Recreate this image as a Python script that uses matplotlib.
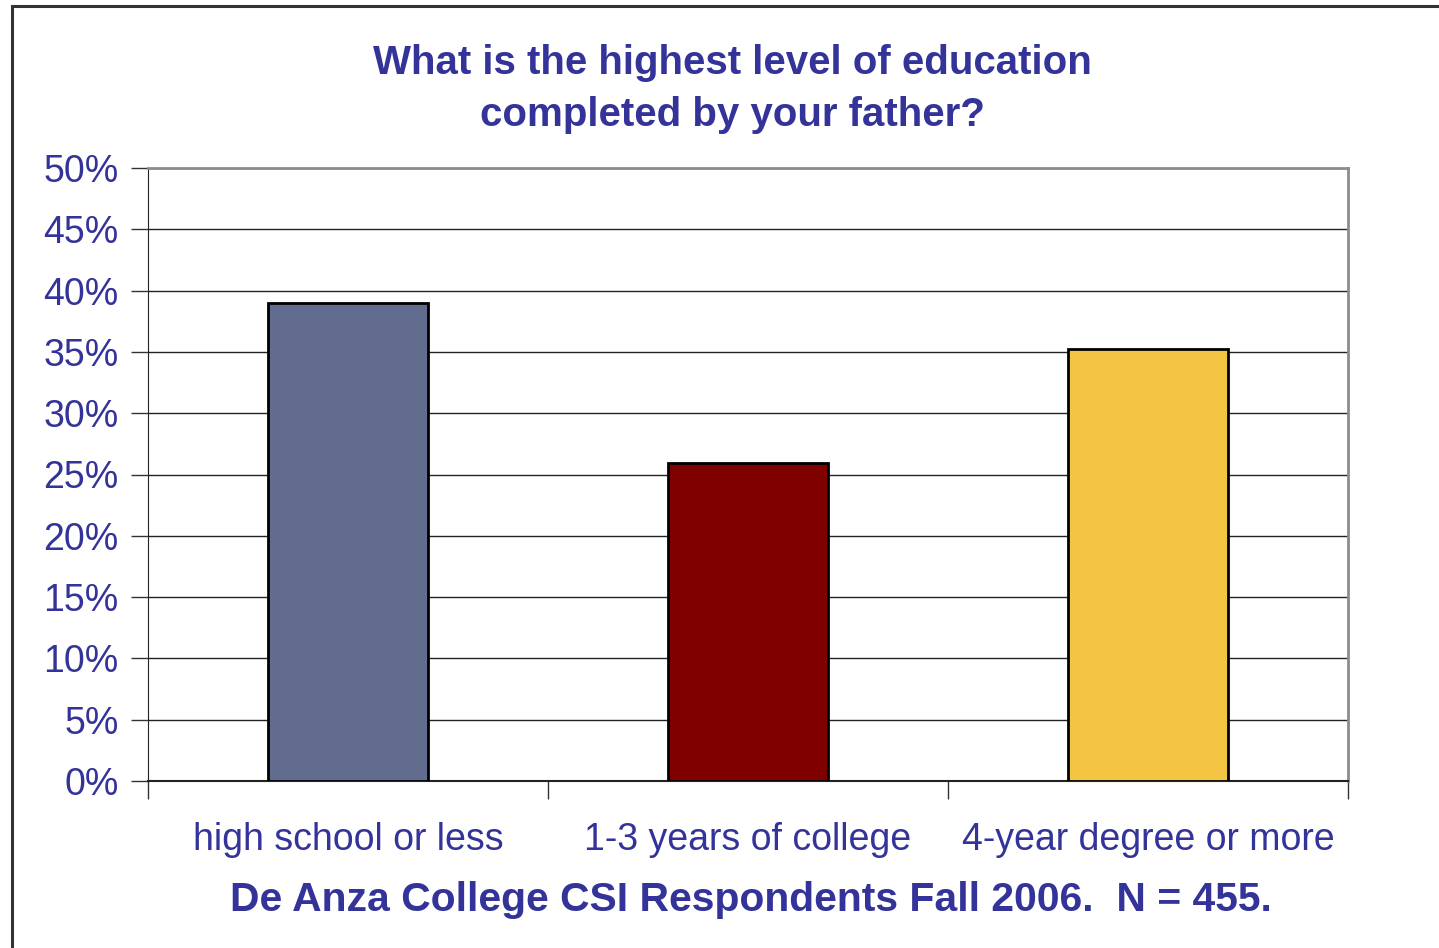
import matplotlib
matplotlib.use("Agg")
from matplotlib import pyplot as plt
from matplotlib.patches import Rectangle
from matplotlib.ticker import FuncFormatter, MultipleLocator

categories = ["high school or less", "1-3 years of college", "4-year degree or more"]
values = [39.0, 25.9, 35.2]
bar_colors = ["#616C8E", "#800000", "#F4C542"]

title = "What is the highest level of education\ncompleted by your father?"
xlabel = "De Anza College CSI Respondents Fall 2006.  N = 455."
text_color = "#333399"

plt.rcParams["font.family"] = ["Liberation Sans", "DejaVu Sans"]

fig = plt.figure(figsize=(14.39, 9.48), dpi=100)
ax = fig.add_axes([148 / 1439, 1 - 781 / 948, 1200 / 1439, 613 / 948])

# outer frame of the chart area (runs off the right and bottom edges)
fig.patches.append(Rectangle((12 / 1439, -0.1), 1.2, 1 - 6 / 948 + 0.1,
                             transform=fig.transFigure, fill=False,
                             edgecolor="#333333", linewidth=2.2))

x = range(len(categories))
ax.bar(x, values, width=0.4, color=bar_colors, edgecolor="black", linewidth=2, zorder=3)

ax.set_xlim(-0.5, len(categories) - 0.5)
ax.set_ylim(0, 50)
ax.yaxis.set_major_locator(MultipleLocator(5))
ax.yaxis.set_major_formatter(FuncFormatter(lambda v, p: f"{v:.0f}%"))
ax.grid(axis="y", color="#222222", linewidth=1, zorder=0)

ax.set_xticks([i - 0.5 for i in range(len(categories) + 1)])
ax.set_xticklabels([])
ax.tick_params(axis="x", direction="out", length=13, width=1, color="#333333")
ax.tick_params(axis="y", direction="out", length=12, width=1, color="#333333",
               labelsize=27, labelcolor=text_color, pad=9)
for i, c in enumerate(categories):
    ax.text(i, -4.8, c, ha="center", va="center", fontsize=27, color=text_color,
            transform=ax.transData)

for s in ["top", "right"]:
    ax.spines[s].set_color("#8c8c8c")
    ax.spines[s].set_linewidth(2)
ax.spines["left"].set_color("#222222")
ax.spines["bottom"].set_color("#222222")
ax.spines["bottom"].set_linewidth(1.5)

fig.text(732 / 1439, 1 - 89 / 948, title, ha="center", va="center", fontsize=29,
         fontweight="bold", color=text_color, linespacing=1.5)
fig.text(751 / 1439, 1 - 900 / 948, xlabel, ha="center", va="center", fontsize=29.4,
         fontweight="bold", color=text_color)

fig.savefig("out.png", dpi=100)
